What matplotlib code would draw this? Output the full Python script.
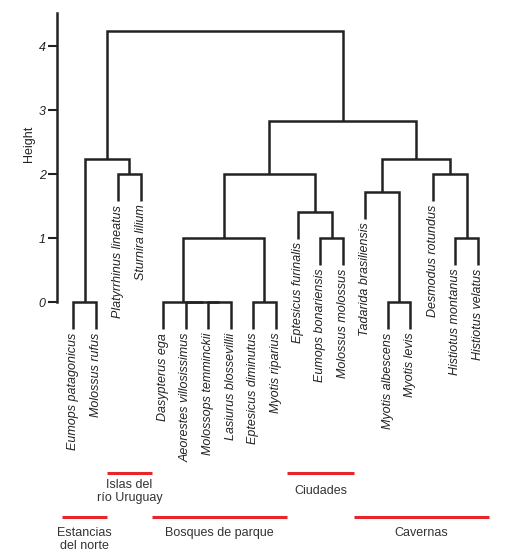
import numpy as np
import matplotlib
matplotlib.use('Agg')
import matplotlib.pyplot as plt

plt.rcParams['font.family'] = ['Liberation Sans', 'DejaVu Sans']

# leaves in plotting order
leaves = ['Eumops patagonicus', 'Molossus rufus', 'Platyrrhinus lineatus',
          'Sturnira lilium', 'Dasypterus ega', 'Aeorestes villosissimus',
          'Molossops temminckii', 'Lasiurus blossevillii', 'Eptesicus diminutus',
          'Myotis riparius', 'Eptesicus furinalis', 'Eumops bonariensis',
          'Molossus molossus', 'Tadarida brasiliensis', 'Myotis albescens',
          'Myotis levis', 'Desmodus rotundus', 'Histiotus montanus',
          'Histiotus velatus']

# hclust-style merges: negative = leaf number, positive = earlier merge
merge_a = [-1, -7, -6, -5, -9, -15, 4, -12, -18, -11, -14, -3, 7, -17, 1, 11, 13, 15]
merge_b = [-2, -8, 2, 3, -10, -16, 5, -13, -19, 8, 6, -4, 10, 9, 12, 14, 16, 17]
heights = [0, 0, 0, 0, 0, 0, 1.0, 1.0, 1.0, 1.415, 1.72, 2.0, 2.0, 2.0, 2.235, 2.235, 2.84, 4.24]

# habitat groups (first leaf, last leaf)
groups = ['Estancias\ndel norte', 'Islas del\nrío Uruguay', 'Bosques de parque',
          'Ciudades', 'Cavernas']
group_first = [1, 3, 5, 11, 14]
group_last = [2, 4, 10, 13, 19]
group_row = [1, 0, 1, 0, 1]

col = '#222222'
red = '#e8262a'
lw = 1.8
hang = 0.1 * max(heights)

fig = plt.figure(figsize=(5.2, 5.59), dpi=100)
ax = fig.add_axes([57.3 / 520, 0, 452.7 / 520, 546 / 559])
ax.set_xlim(1 - 16 / 22.47, 1 + (510 - 73.3) / 22.47)
ax.set_ylim((302.3 - 559) / 64, (302.3 - 13) / 64)

xpos = {}
hpos = {}
def node(k):
    if k < 0:
        return float(-k), None
    return xpos[k], hpos[k]

for i in range(len(heights)):
    h = heights[i]
    xa, ha_ = node(merge_a[i])
    xb, hb_ = node(merge_b[i])
    ya = h - hang if ha_ is None else ha_
    yb = h - hang if hb_ is None else hb_
    ax.plot([xa, xa, xb, xb], [ya, h, h, yb], color=col, lw=lw,
            solid_joinstyle='miter', solid_capstyle='butt', clip_on=False)
    xpos[i + 1] = (xa + xb) / 2
    hpos[i + 1] = h
    for k, y0 in ((merge_a[i], ya), (merge_b[i], yb)):
        if k < 0:
            ax.text(-k, y0 - 0.05, leaves[-k - 1], rotation=90, ha='center',
                    va='top', fontsize=9, style='italic', color=col)

# habitat bars
row_y = [-2.66, -3.35]
for g, a, b, r in zip(groups, group_first, group_last, group_row):
    y = row_y[r]
    ax.plot([a - 0.5, b + 0.5], [y, y], color=red, lw=2.2, solid_capstyle='butt')
    if r == 0:
        ax.text((a + b) / 2, -2.95, g, ha='center', va='center', fontsize=9,
                color='#333333', linespacing=1.1)
    else:
        ax.text((a + b) / 2, y - 0.16, g, ha='center', va='top', fontsize=9,
                color='#333333', linespacing=1.1)

# axis
for s in ['top', 'right', 'bottom']:
    ax.spines[s].set_visible(False)
ax.spines['left'].set_bounds(0, 4.52)
ax.spines['left'].set_linewidth(1.8)
ax.spines['left'].set_color(col)
ax.set_xticks([])
ax.set_yticks([0, 1, 2, 3, 4])
ax.tick_params(axis='y', length=6.2, width=1.5, pad=2.2, color=col,
               labelsize=9, labelcolor=col)
for t in ax.get_yticklabels():
    t.set_style('italic')
ax.text(1 + (29 - 73.3) / 22.47, 2.48, 'Height', rotation=90, ha='center',
        va='center', fontsize=9, color=col)

fig.savefig('out.png', dpi=100)
